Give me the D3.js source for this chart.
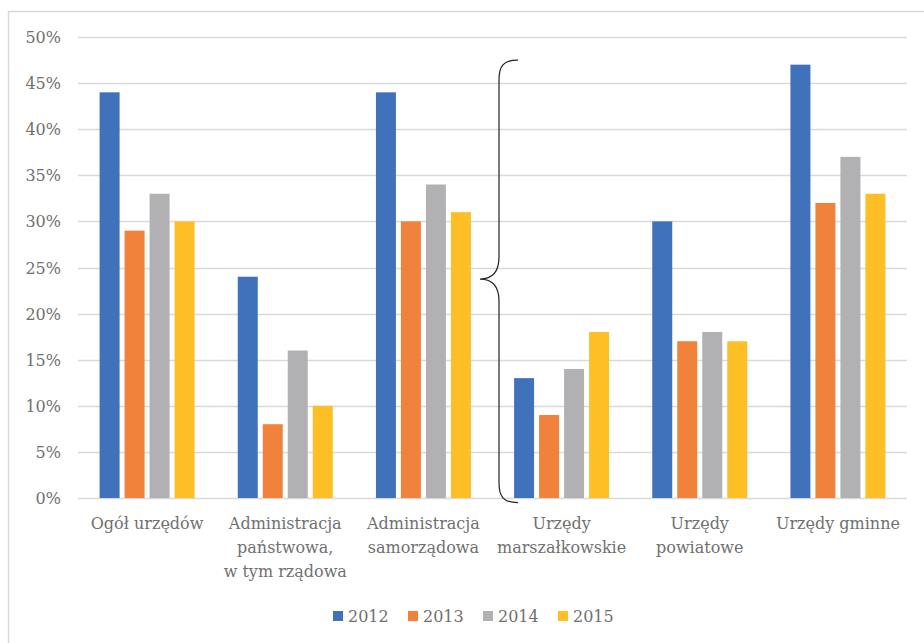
<!DOCTYPE html>
<html>
<head>
<meta charset="utf-8">
<script src="https://cdn.jsdelivr.net/npm/d3@7"></script>
<style>
  body { margin: 0; background: #fff; }
  text { font-family: "DejaVu Serif", serif; fill: #707070; }
</style>
</head>
<body>
<svg id="chart" width="924" height="643"></svg>
<script>
const categories = [
    ["Ogół urzędów"],
    ["Administracja", "państwowa,", "w tym rządowa"],
    ["Administracja", "samorządowa"],
    ["Urzędy", "marszałkowskie"],
    ["Urzędy", "powiatowe"],
    ["Urzędy gminne"]
];
const years = ["2012", "2013", "2014", "2015"];
const values2012 = [44, 24, 44, 13, 30, 47];
const values2013 = [29, 8, 30, 9, 17, 32];
const values2014 = [33, 16, 34, 14, 18, 37];
const values2015 = [30, 10, 31, 18, 17, 33];
const yTicks = [0, 5, 10, 15, 20, 25, 30, 35, 40, 45, 50];
const colors = ["#4072bb", "#f0823b", "#b1b1b4", "#fdbe26"];

const series = [values2012, values2013, values2014, values2015];

let svg = d3.select("#chart");

// outer frame (only top and left visible)
svg.append("path")
    .attr("d", "M8.5,643 V11.5 H924")
    .attr("fill", "none")
    .attr("stroke", "#d9d9d9")
    .attr("stroke-width", 1.5);

let plotLeft = 78, plotRight = 907, plotTop = 37, plotBottom = 498;

let x = d3.scaleBand()
    .domain(d3.range(categories.length))
    .range([plotLeft, plotRight]);

let inner = d3.scaleBand()
    .domain(years)
    .range([x.bandwidth() / 2 - 47.5, x.bandwidth() / 2 + 47.5])
    .paddingInner(0.2);

let y = d3.scaleLinear()
    .domain([0, 50])
    .range([plotBottom, plotTop]);

// gridlines
svg.append("g")
    .selectAll("line")
    .data(yTicks)
    .join("line")
    .attr("x1", plotLeft)
    .attr("x2", plotRight)
    .attr("y1", d => Math.round(y(d)) + 0.5)
    .attr("y2", d => Math.round(y(d)) + 0.5)
    .attr("stroke", "#d9d9d9")
    .attr("stroke-width", 1.5);

// y labels
svg.append("g")
    .selectAll("text")
    .data(yTicks)
    .join("text")
    .attr("x", 61)
    .attr("y", d => y(d) + 6)
    .attr("text-anchor", "end")
    .style("font-size", "16px")
    .text(d => d + "%");

// bars
series.forEach((vals, si) => {
    svg.append("g")
        .selectAll("rect")
        .data(vals)
        .join("rect")
        .attr("x", (d, i) => x(i) + inner(years[si]))
        .attr("y", d => y(d))
        .attr("width", inner.bandwidth())
        .attr("height", d => y(0) - y(d))
        .attr("fill", colors[si]);
});

// category labels
categories.forEach((lines, i) => {
    let t = svg.append("text")
        .attr("text-anchor", "middle")
        .style("font-size", "16px");
    lines.forEach((line, j) => {
        t.append("tspan")
            .attr("x", x(i) + x.bandwidth() / 2)
            .attr("y", 529 + j * 24)
            .text(line);
    });
});

// brace over the local-government groups
let bx = x(3) + 6.5;
let bTop = y(47.5), bMid = y(23.75), bBot = y(-0.5);
svg.append("path")
    .attr("d", `M${bx + 19},${bTop} C${bx + 4},${bTop} ${bx},${bTop + 6} ${bx},${bTop + 20}
                V${bMid - 22} C${bx},${bMid - 6} ${bx - 8},${bMid} ${bx - 19},${bMid}
                C${bx - 8},${bMid} ${bx},${bMid + 6} ${bx},${bMid + 22}
                V${bBot - 20} C${bx},${bBot - 6} ${bx + 4},${bBot} ${bx + 19},${bBot}`)
    .attr("fill", "none")
    .attr("stroke", "#222")
    .attr("stroke-width", 1.2);

// legend
let legend = svg.append("g");
years.forEach((yr, i) => {
    let lx = 333 + i * 75;
    legend.append("rect")
        .attr("x", lx)
        .attr("y", 611)
        .attr("width", 10)
        .attr("height", 10)
        .attr("fill", colors[i]);
    legend.append("text")
        .attr("x", lx + 15)
        .attr("y", 622)
        .style("font-size", "16px")
        .text(yr);
});
</script>
</body>
</html>
